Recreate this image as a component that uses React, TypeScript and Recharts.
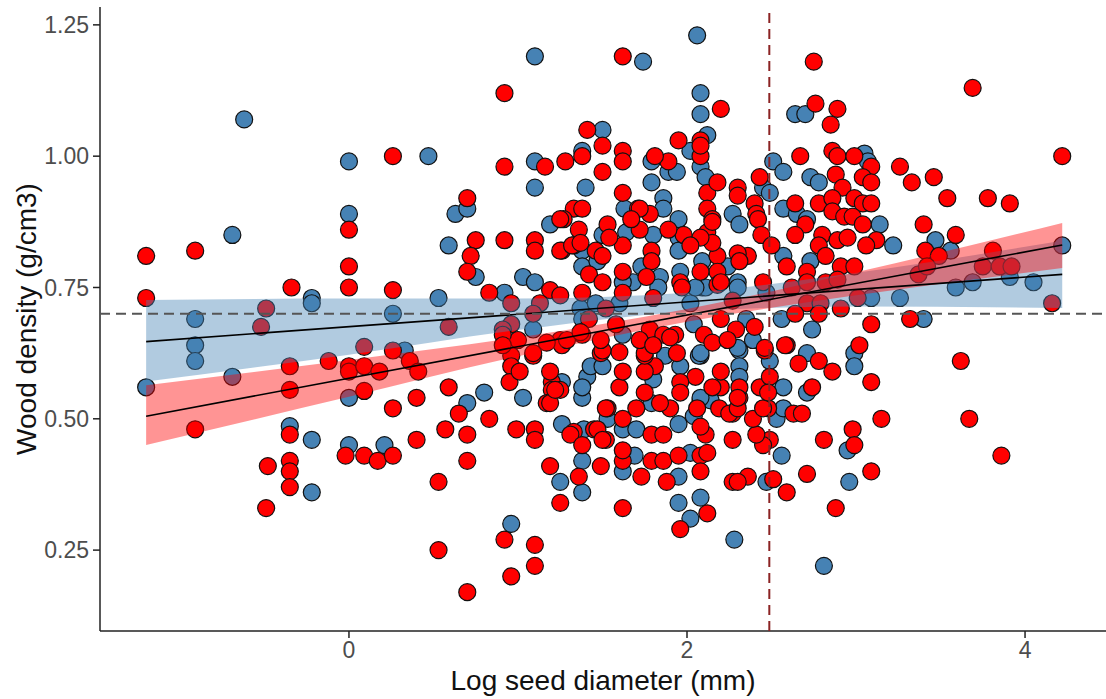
import {
  ComposedChart,
  Scatter,
  Area,
  Line,
  XAxis,
  YAxis,
  ReferenceLine,
  Label,
} from 'recharts'

// axis ticks
const xTicks = [0, 2, 4]
const yTicks = [0.25, 0.5, 0.75, 1.0, 1.25]

// reference lines
const hLineY = 0.7
const vLineX = 2.487

// fitted lines (ends)
const fitX = [-1.2, 4.22]
const blueFit = [0.647, 0.775]
const redFit = [0.505, 0.831]

// confidence bands
const bandX = [-1.2, 0, 1, 2, 3, 4.22]
const blueBandLow = [0.571, 0.622, 0.669, 0.704, 0.714, 0.711]
const blueBandHigh = [0.726, 0.729, 0.729, 0.74, 0.778, 0.839]
const redBandLow = [0.45, 0.542, 0.619, 0.685, 0.735, 0.787]
const redBandHigh = [0.564, 0.612, 0.655, 0.709, 0.779, 0.873]

// [log seed diameter, wood density]
const bluePoints: [number, number][] = [
  [-0.62, 1.07], [0, 0.99], [0, 0.89], [-0.69, 0.85], [-0.22, 0.73], [-0.22, 0.72],
  [-0.91, 0.69], [-0.91, 0.64], [-0.91, 0.61], [-0.69, 0.58], [-1.2, 0.56], [0, 0.54],
  [-0.35, 0.486], [-0.22, 0.46], [0, 0.45], [-0.22, 0.36],
  [0.21, 0.45], [0.33, 0.63], [0.8, 0.55], [0.7, 0.53], [1.03, 0.54], [0.96, 0.3],
  [1.25, 0.38], [1.38, 0.36], [1.38, 0.42], [1.62, 0.4], [1.69, 0.43], [1.95, 0.39],
  [1.95, 0.34], [2.02, 0.31], [2.08, 0.35], [2.02, 0.435], [2.28, 0.27],
  [1.26, 0.57], [1.41, 0.58], [1.38, 0.54], [1.43, 0.6], [1.5, 0.6], [1.26, 0.49],
  [1.39, 0.48], [1.53, 0.5], [1.62, 0.48], [1.7, 0.48], [1.95, 0.49], [2.04, 0.505],
  [2.08, 0.62], [2.08, 0.535], [1.38, 0.56],
  [2.06, 1.23], [1.1, 1.19], [1.74, 1.18], [2.08, 1.12], [2.08, 1.08], [1.5, 1.05],
  [1.38, 1.01], [0.47, 1.0], [1.1, 0.99], [1.1, 0.94], [1.4, 0.94], [1.79, 0.99],
  [1.79, 0.95], [1.89, 0.97], [2.02, 1.01], [2.12, 1.04], [2.08, 0.98], [2.11, 0.96],
  [0.63, 0.89], [0.7, 0.9], [1.86, 0.92], [1.86, 0.9], [1.63, 0.9], [1.19, 0.87],
  [1.95, 0.88], [2.27, 0.89], [0.59, 0.83], [0.75, 0.77], [1.03, 0.77], [1.1, 0.76],
  [0.53, 0.73], [0.26, 0.7], [0.92, 0.74],
  [1.94, 0.97], [2.45, 0.94], [2.51, 0.99], [2.49, 0.93], [2.3, 0.76], [2.24, 0.79],
  [2.31, 0.87], [2.09, 0.8], [2.09, 0.75], [1.95, 0.845], [1.95, 0.82], [1.96, 0.78],
  [1.8, 0.85], [1.84, 0.77], [1.73, 0.79], [1.83, 0.75],
  [2.64, 1.08], [2.7, 1.08], [3.05, 1.005], [3.07, 0.99], [2.73, 0.96], [2.78, 0.95],
  [2.57, 0.97], [2.57, 0.9], [2.65, 0.89], [2.71, 0.88], [3.14, 0.87], [3.22, 0.83],
  [2.57, 0.81], [2.73, 0.8], [3.09, 0.73], [3.26, 0.73], [2.74, 0.67], [2.56, 0.69],
  [2.99, 0.625], [2.71, 0.625],
  [3.47, 0.84], [3.56, 0.82], [3.91, 0.77], [3.59, 0.75], [3.69, 0.76], [4.05, 0.76],
  [4.22, 0.83], [3.4, 0.69],
  [2.99, 0.6], [2.71, 0.55], [2.95, 0.44], [2.96, 0.38], [2.81, 0.22], [2.56, 0.43],
  [2.47, 0.38], [2.53, 0.5], [2.57, 0.52], [2.57, 0.56], [2.31, 0.63], [2.31, 0.6],
  [2.31, 0.58], [2.49, 0.61],
  [1.79, 0.53], [2.14, 0.535], [2.08, 0.54], [1.96, 0.6], [2.07, 0.62], [1.8, 0.575],
  [1.87, 0.62],
  [1.5, 0.85], [1.64, 0.855], [1.38, 0.82], [1.38, 0.79], [1.47, 0.8], [1.68, 0.76],
  [1.62, 0.76],
  [1.37, 0.71], [1.46, 0.72], [1.6, 0.72], [1.38, 0.69], [1.09, 0.67],
  [2.02, 0.72], [2.11, 0.75], [2.3, 0.75], [2.47, 0.74], [2.04, 0.68], [2.35, 0.69],
  [2.39, 0.65], [2.3, 0.635], [2.08, 0.625], [2.05, 0.75], [1.62, 0.66],
]

const redPoints: [number, number][] = [
  [0, 0.86], [0, 0.79], [0, 0.75], [-1.2, 0.81], [-0.91, 0.82], [-0.34, 0.75],
  [-1.2, 0.73], [-0.49, 0.71], [-0.52, 0.675],
  [-0.35, 0.6], [-0.35, 0.555], [-0.12, 0.61], [0, 0.6], [0, 0.59], [0.09, 0.6],
  [0.09, 0.637], [0.09, 0.553], [-0.91, 0.48], [-0.35, 0.47], [-0.02, 0.43], [0.09, 0.43],
  [-0.48, 0.41], [-0.35, 0.42], [-0.35, 0.4], [-0.35, 0.37], [-0.49, 0.33],
  [0.26, 0.63], [0.36, 0.61], [0.41, 0.59], [0.18, 0.59], [0.59, 0.56], [0.26, 0.52],
  [0.4, 0.54], [0.65, 0.51], [0.83, 0.5], [0.57, 0.48], [0.7, 0.47], [0.99, 0.48],
  [1.1, 0.48], [1.1, 0.46], [0.4, 0.46], [0.17, 0.42], [0.26, 0.43], [0.7, 0.42],
  [0.53, 0.38], [0.53, 0.25], [0.92, 0.27], [1.1, 0.26], [1.1, 0.22], [0.96, 0.2],
  [0.7, 0.17], [1.19, 0.41], [1.25, 0.34], [1.36, 0.39], [1.49, 0.41], [1.62, 0.33],
  [1.62, 0.42], [1.73, 0.39], [1.79, 0.42], [1.86, 0.42], [1.88, 0.38], [1.96, 0.29],
  [2.12, 0.32], [2.08, 0.43], [2.12, 0.435], [2.08, 0.4], [2.27, 0.38], [2.27, 0.46],
  [0.96, 0.62], [0.96, 0.6], [0.95, 0.57], [1.09, 0.62], [1.01, 0.59], [1.2, 0.57],
  [1.2, 0.555], [1.17, 0.53], [1.25, 0.555], [1.25, 0.65], [1.49, 0.625], [1.6, 0.627],
  [1.6, 0.56], [1.53, 0.52], [1.33, 0.475], [1.45, 0.48], [1.52, 0.46], [1.62, 0.5],
  [1.7, 0.52], [1.79, 0.47], [2.11, 0.47], [2.08, 0.485], [2.19, 0.52],
  [1.62, 1.19], [0.92, 1.12], [2.2, 1.09], [1.41, 1.05], [1.5, 1.02], [1.62, 1.01],
  [1.62, 0.99], [1.5, 0.97], [1.38, 1.0], [0.26, 1.0], [0.92, 0.98], [1.16, 0.98],
  [1.28, 0.99], [1.62, 0.93], [1.89, 0.99], [1.95, 1.03], [2.08, 1.03], [2.08, 1.0],
  [2.12, 0.93], [2.3, 0.94], [0.7, 0.92], [1.78, 0.89], [1.71, 0.9], [1.33, 0.9],
  [1.38, 0.9], [1.27, 0.88], [1.36, 0.86], [2.12, 0.9], [2.15, 0.88], [0.75, 0.84],
  [0.72, 0.81], [0.7, 0.78], [0.92, 0.84], [1.1, 0.84], [1.1, 0.82], [0.26, 0.745],
  [0.83, 0.74], [0.59, 0.675], [1.19, 0.745], [1.25, 0.735], [1.26, 0.82], [1.33, 0.83],
  [1.25, 0.88],
  [2.08, 1.02], [1.81, 1.0], [2.18, 0.95], [2.3, 0.925], [2.43, 0.96], [2.4, 0.91],
  [2.41, 0.89], [2.42, 0.88], [2.44, 0.85], [2.5, 0.83], [2.36, 0.81], [2.3, 0.815],
  [2.31, 0.8], [2.18, 0.81], [2.18, 0.78], [2.12, 0.855], [2.15, 0.875], [2.15, 0.835],
  [2.08, 0.845], [2.08, 0.78], [2.18, 0.755], [1.98, 0.85], [2.02, 0.83], [1.96, 0.76],
  [1.79, 0.82], [1.79, 0.8], [1.89, 0.86], [1.72, 0.9], [1.72, 0.86],
  [2.76, 1.1], [2.89, 1.09], [2.85, 1.06], [2.67, 1.0], [2.86, 1.01], [2.89, 1.0],
  [2.99, 1.0], [3.09, 0.98], [3.26, 0.98], [3.33, 0.95], [2.88, 0.965], [2.92, 0.94],
  [3.04, 0.96], [3.09, 0.95], [2.99, 0.92], [3.04, 0.91], [3.09, 0.91], [2.64, 0.91],
  [2.78, 0.91], [2.86, 0.92], [2.86, 0.895], [2.93, 0.885], [2.98, 0.885], [2.7, 0.87],
  [2.64, 0.85], [2.8, 0.85], [2.89, 0.84], [2.95, 0.845], [3.04, 0.87], [3.12, 0.84],
  [3.06, 0.83], [2.78, 0.83], [2.82, 0.81], [2.59, 0.79], [2.71, 0.78], [2.91, 0.79],
  [2.99, 0.79], [2.62, 0.75], [2.71, 0.76], [2.82, 0.76], [2.89, 0.765], [2.71, 0.72],
  [2.79, 0.72], [2.91, 0.71], [3.01, 0.73], [2.64, 0.7], [2.78, 0.7], [3.09, 0.68],
  [3.32, 0.69], [2.59, 0.64], [3.02, 0.64],
  [2.75, 1.18], [3.69, 1.13], [4.22, 1.0], [3.46, 0.96], [3.54, 0.92], [3.78, 0.92],
  [3.91, 0.91], [3.4, 0.87], [3.59, 0.85], [3.41, 0.82], [3.49, 0.81], [3.81, 0.82],
  [3.37, 0.775], [3.42, 0.79], [3.75, 0.79], [3.85, 0.79], [3.92, 0.79], [4.16, 0.72],
  [3.62, 0.61], [3.67, 0.5], [3.86, 0.43], [3.15, 0.5], [3.09, 0.57], [2.86, 0.59],
  [2.78, 0.61], [2.66, 0.605], [2.74, 0.56], [2.81, 0.46], [2.98, 0.48], [2.99, 0.45],
  [3.09, 0.4], [2.88, 0.33], [2.71, 0.395], [2.59, 0.36], [2.49, 0.46], [2.45, 0.45],
  [2.36, 0.39], [2.3, 0.38], [2.51, 0.385], [2.41, 0.47], [2.48, 0.52], [2.39, 0.5],
  [2.63, 0.51], [2.68, 0.51], [2.43, 0.56], [2.49, 0.58], [2.46, 0.63], [2.58, 0.64],
  [2.31, 0.54], [2.27, 0.51], [2.31, 0.56],
  [1.95, 0.43], [2.45, 0.52], [2.48, 0.55], [1.86, 0.47], [2.06, 0.52], [1.9, 0.52],
  [1.84, 0.53], [1.75, 0.55], [2.25, 0.51], [2.3, 0.52], [2.3, 0.54], [2.2, 0.56],
  [2.2, 0.59], [2.15, 0.56], [2.05, 0.58], [1.96, 0.57], [1.96, 0.55], [1.81, 0.6],
  [1.75, 0.59], [1.75, 0.62],
  [1.19, 0.59], [1.19, 0.53], [1.22, 0.555], [1.62, 0.59], [1.31, 0.47], [1.38, 0.45],
  [1.47, 0.48], [1.5, 0.46], [1.52, 0.52], [1.62, 0.44],
  [1.67, 0.88], [1.53, 0.87], [1.62, 0.83], [1.54, 0.845], [1.25, 0.82], [1.32, 0.83],
  [1.37, 0.835], [1.46, 0.82], [1.5, 0.81], [1.42, 0.775], [1.5, 0.76], [1.38, 0.74],
  [1.62, 0.78], [1.62, 0.74],
  [1.13, 0.72], [0.96, 0.72], [1.09, 0.7], [1.52, 0.71], [1.58, 0.68], [1.42, 0.69],
  [1.26, 0.64], [1.38, 0.66], [1.5, 0.63], [1.0, 0.65], [1.09, 0.625],
  [1.8, 0.73], [2.27, 0.725], [2.45, 0.76], [1.78, 0.67], [1.86, 0.66], [1.93, 0.66],
  [2.1, 0.66], [2.2, 0.69], [2.29, 0.67], [2.4, 0.675], [2.46, 0.635], [2.15, 0.645],
  [1.94, 0.625], [1.75, 0.625], [1.97, 0.75], [2.2, 0.76], [1.76, 0.77],
  [0.96, 0.68], [0.91, 0.67], [0.91, 0.66], [0.91, 0.64], [1.17, 0.645], [1.29, 0.65],
  [1.37, 0.665], [1.49, 0.65], [1.72, 0.65], [1.8, 0.64], [1.9, 0.655], [2.24, 0.65],
]

const BLUE = '#4682B4'
const RED = '#FF0000'
const FONT = '"Liberation Sans", Arial, sans-serif'
const W = 1106
const H = 699
const X_DOMAIN: [number, number] = [-1.473, 4.479]
const Y_DOMAIN: [number, number] = [0.096, 1.284]

const blueData = bluePoints.map(([x, y]) => ({ x, y }))
const redData = redPoints.map(([x, y]) => ({ x, y }))
const bandData = bandX.map((x, i) => ({
  x,
  blueBand: [blueBandLow[i], blueBandHigh[i]],
  redBand: [redBandLow[i], redBandHigh[i]],
}))
const fitData = fitX.map((x, i) => ({ x, blue: blueFit[i], red: redFit[i] }))

function dot(fill: string) {
  return (props: any) => (
    <circle
      cx={props.cx}
      cy={props.cy}
      r={8.5}
      fill={fill}
      stroke="#111"
      strokeWidth={1.2}
    />
  )
}

// bottom layer: axes and points
function PointsLayer() {
  return (
    <ComposedChart
      width={W}
      height={H}
      margin={{ top: 7, right: 0, left: 0, bottom: 0 }}
      style={{ fontFamily: FONT }}
    >
      <XAxis
        type="number"
        dataKey="x"
        domain={X_DOMAIN}
        allowDataOverflow
        ticks={xTicks}
        height={68}
        tickSize={7}
        tickMargin={4}
        tick={{ fill: '#4D4D4D', fontSize: 23 }}
        axisLine={{ stroke: '#222', strokeWidth: 1.5 }}
        tickLine={{ stroke: '#222', strokeWidth: 1.5 }}
      >
        <Label
          value="Log seed diameter (mm)"
          position="center"
          dy={15}
          style={{ fill: '#111', fontSize: 28 }}
        />
      </XAxis>
      <YAxis
        type="number"
        dataKey="y"
        domain={Y_DOMAIN}
        allowDataOverflow
        ticks={yTicks}
        width={100}
        tickSize={7}
        tickMargin={4}
        tickFormatter={(v: number) => v.toFixed(2)}
        tick={{ fill: '#4D4D4D', fontSize: 23 }}
        axisLine={{ stroke: '#222', strokeWidth: 1.5 }}
        tickLine={{ stroke: '#222', strokeWidth: 1.5 }}
      >
        <Label
          value="Wood density (g/cm3)"
          position="center"
          angle={-90}
          dx={-24}
          style={{ fill: '#111', fontSize: 28, textAnchor: 'middle' }}
        />
      </YAxis>
      <Scatter data={blueData} shape={dot(BLUE)} isAnimationActive={false} />
      <Scatter data={redData} shape={dot(RED)} isAnimationActive={false} />
    </ComposedChart>
  )
}

// top layer: confidence bands, fits and reference lines (drawn over the points)
function FitLayer() {
  return (
    <ComposedChart
      width={W}
      height={H}
      data={bandData}
      margin={{ top: 7, right: 0, left: 100, bottom: 68 }}
    >
      <XAxis type="number" dataKey="x" domain={X_DOMAIN} allowDataOverflow hide />
      <YAxis type="number" domain={Y_DOMAIN} allowDataOverflow hide />
      <Area
        type="monotone"
        dataKey="blueBand"
        stroke="none"
        fill={BLUE}
        fillOpacity={0.42}
        isAnimationActive={false}
      />
      <Area
        type="monotone"
        dataKey="redBand"
        stroke="none"
        fill={RED}
        fillOpacity={0.42}
        isAnimationActive={false}
      />
      <Line
        data={fitData}
        dataKey="blue"
        stroke="#000"
        strokeWidth={1.6}
        dot={false}
        isAnimationActive={false}
      />
      <Line
        data={fitData}
        dataKey="red"
        stroke="#000"
        strokeWidth={1.6}
        dot={false}
        isAnimationActive={false}
      />
      <ReferenceLine y={hLineY} stroke="#555" strokeWidth={2} strokeDasharray="10 6" />
      <ReferenceLine x={vLineX} stroke="#8B2323" strokeWidth={2} strokeDasharray="10 6" />
    </ComposedChart>
  )
}

export default function App() {
  return (
    <div style={{ position: 'absolute', left: 0, top: 0, width: W, height: H, background: '#fff' }}>
      <div style={{ position: 'absolute', left: 0, top: 0 }}>
        <PointsLayer />
      </div>
      <div style={{ position: 'absolute', left: 0, top: 0, pointerEvents: 'none' }}>
        <FitLayer />
      </div>
    </div>
  )
}
